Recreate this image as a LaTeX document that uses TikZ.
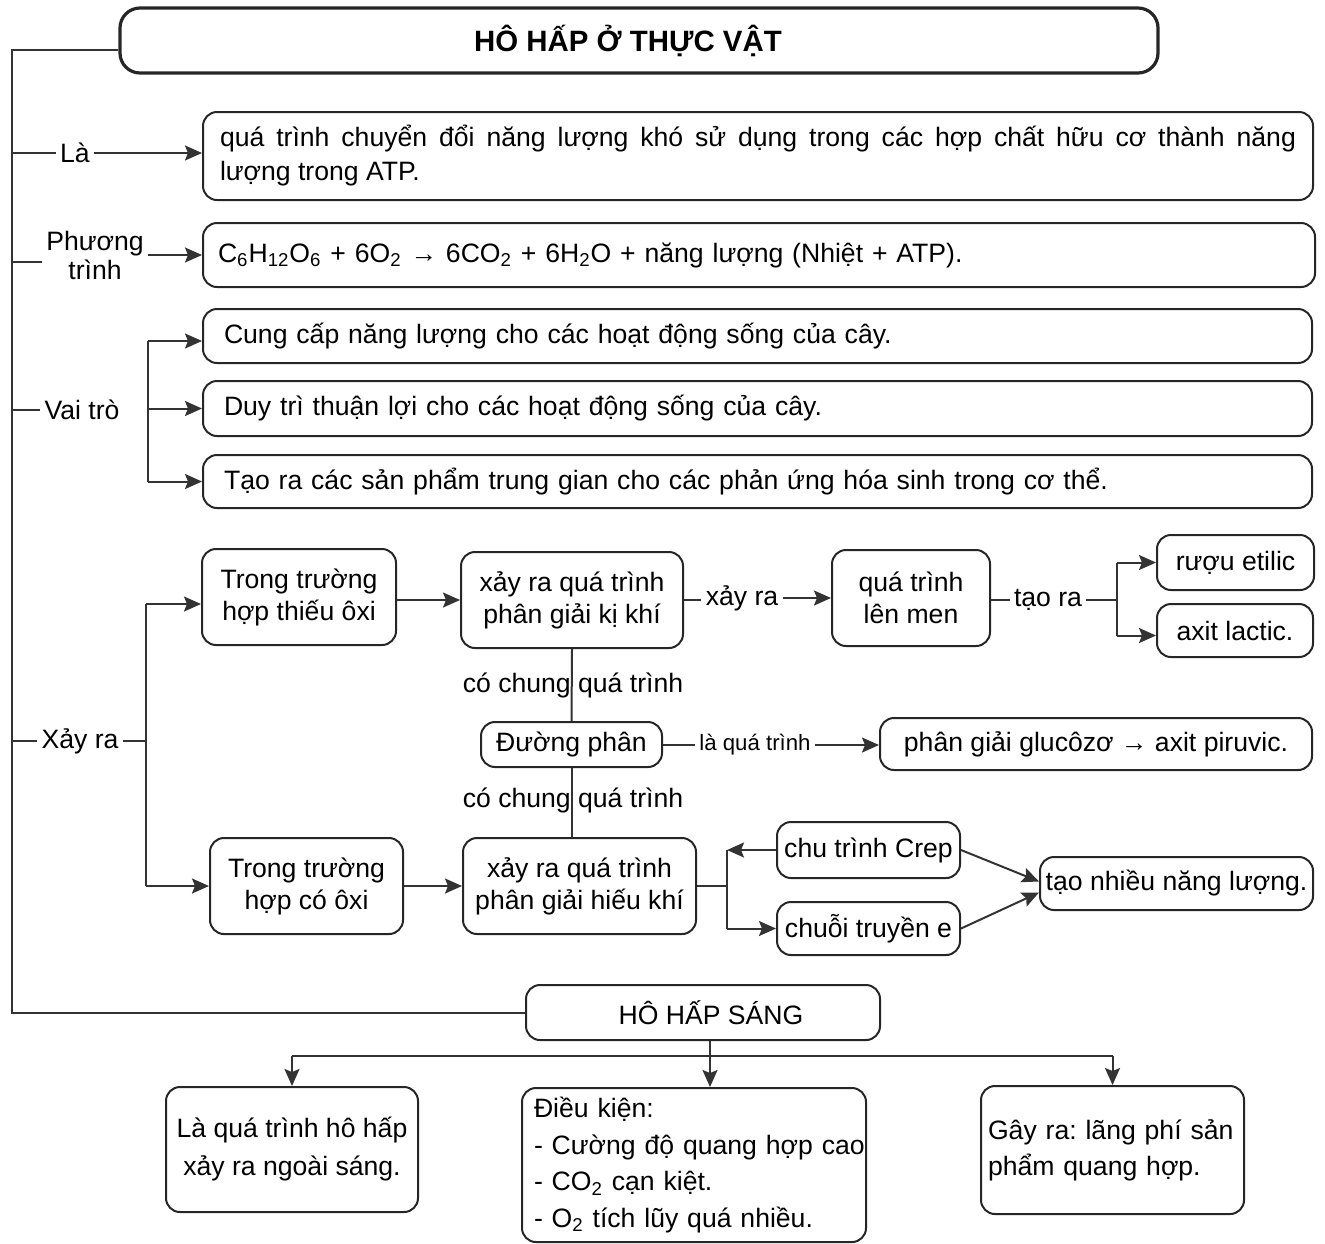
\documentclass[tikz,border=0pt]{standalone}
\usepackage{fontspec}
\setmainfont{Liberation Sans}
\usetikzlibrary{arrows.meta}
\begin{document}
\frenchspacing
\begin{tikzpicture}[x=0.5pt,y=-0.5pt,
  font=\fontsize{13.3}{16}\selectfont,
  line/.style={draw=black!80, line width=1pt},
  arr/.style={line, -{Stealth[length=8.5pt,width=7.5pt,inset=1.5pt]}},
  box/.style={draw=black!85, line width=1pt, rounded corners=7pt, inner sep=0pt, align=center},
  lbox/.style={box, align=left},
  lab/.style={inner sep=2pt, align=center}]
\useasboundingbox (0,0) rectangle (1325,1243);

% title
\node[box, line width=1.6pt, rounded corners=10pt, minimum width=519pt, minimum height=32.5pt, font=\fontsize{14.7}{17}\selectfont\bfseries] (title) at (639,40.5) {HÔ HẤP Ở THỰC VẬT\hspace*{11pt}};
\coordinate (T) at (12,50);

% Là
\node[box, align=justify, inner xsep=8.5pt, text width=538pt, minimum height=44pt, font=\fontsize{13.3}{17}\selectfont] (b1) at (758,156)
  {quá trình chuyển đổi năng lượng khó sử dụng trong các hợp chất hữu cơ thành năng\linebreak lượng trong ATP.};
\node[lab] (la) at (75,153) {Là};

% Phương trình
\node[lbox, inner xsep=7.5pt, text width=541pt, minimum height=32pt] (b2) at (759,255)
  {C\textsubscript{6}H\textsubscript{12}O\textsubscript{6} + 6O\textsubscript{2} → 6CO\textsubscript{2} + 6H\textsubscript{2}O + năng lượng (Nhiệt + ATP).};
\node[lab, font=\fontsize{13.3}{14.5}\selectfont] (pt) at (95,255) {Phương\\trình};
\coordinate (ptl) at ([yshift=-3.5pt]pt.west);

% Vai trò
\node[lbox, inner xsep=10.5pt, text width=533.5pt, minimum height=27pt] (b3) at (757.5,336) {Cung cấp năng lượng cho các hoạt động sống của cây.};
\node[lbox, inner xsep=10.5pt, text width=533.5pt, minimum height=27.5pt] (b4) at (757.5,408.5) {Duy trì thuận lợi cho các hoạt động sống của cây.};
\node[lbox, inner xsep=10.5pt, text width=533.5pt, minimum height=26.5pt] (b5) at (757.5,481.5) {Tạo ra các sản phẩm trung gian cho các phản ứng hóa sinh trong cơ thể.};
\node[lab] (vt) at (82,410) {Vai trò};
\coordinate (vb) at (148,410);

% Xảy ra
\node[lab] (xr) at (80,741) {Xảy ra};
\coordinate (xb) at (146,741);
\node[box, minimum width=97pt, minimum height=48pt] (tx) at (299,597) {Trong trường\\hợp thiếu ôxi};
\node[box, minimum width=111pt, minimum height=48pt] (kk) at (572,600) {xảy ra quá trình\\phân giải kị khí};
\node[box, minimum width=79pt, minimum height=48pt] (lm) at (911,598) {quá trình\\lên men};
\node[box, minimum width=78.5pt, minimum height=27.5pt] (ru) at (1235.5,562.5) {rượu etilic};
\node[box, minimum width=78pt, minimum height=26.5pt] (ax) at (1235,630.5) {axit lactic.};
\node[lab] (xra) at (742,598) {xảy ra};
\node[lab] (tr) at (1048,600) {tạo ra};
\coordinate (lb) at (1117,600);

\node[box, minimum width=90.5pt, minimum height=22.5pt] (dp) at (571.5,744.5) {Đường phân};
\node[box, minimum width=216pt, minimum height=26pt] (pg) at (1096,744) {phân giải glucôzơ → axit piruvic.};
\node[lab, font=\fontsize{11.1}{13}\selectfont] (lqt) at (755,745) {là quá trình};

\node[box, minimum width=96.5pt, minimum height=48pt] (co) at (306.5,886) {Trong trường\\hợp có ôxi};
\node[box, minimum width=116.5pt, minimum height=48pt] (hk) at (579.5,886) {xảy ra quá trình\\phân giải hiếu khí};
\node[box, minimum width=91.5pt, minimum height=28pt] (cr) at (868.5,850) {chu trình Crep};
\node[box, minimum width=91.5pt, minimum height=26.5pt] (cu) at (868.5,928.5) {chuỗi truyền e};
\node[box, minimum width=136.5pt, minimum height=26.5pt] (tn) at (1176.5,883.5) {tạo nhiều năng lượng.};
\coordinate (hb) at (727,886);

% connectors (middle)
\draw[line] (kk.south) -- (dp.north);
\draw[line] (dp.south) -- (hk.north -| dp.south);
\node[lab] (cc1) at (573,685) {có chung quá trình};
\node[lab] (cc2) at (573,800) {có chung quá trình};

% Hô hấp sáng
\node[box, minimum width=177pt, minimum height=27.5pt] (hhs) at (703,1012.5) {\hspace*{8pt}HÔ HẤP SÁNG};
\node[box, minimum width=126pt, minimum height=62.5pt, font=\fontsize{13.3}{19}\selectfont] (l1) at (292,1149.5) {Là quá trình hô hấp\\xảy ra ngoài sáng.};
\node[lbox, inner xsep=6pt, text width=160pt, minimum height=77pt, font=\fontsize{13.3}{18.3}\selectfont] (l2) at (694,1165)
  {\mbox{Điều kiện:}\\\mbox{- Cường độ quang hợp cao}\\\mbox{- CO\textsubscript{2} cạn kiệt.}\\\mbox{- O\textsubscript{2} tích lũy quá nhiều.}};
\node[lbox, inner xsep=3.5pt, text width=124.5pt, minimum height=64pt, font=\fontsize{13.3}{18}\selectfont] (l3) at (1112.5,1150)
  {\mbox{Gây ra: lãng phí sản}\\\mbox{phẩm quang hợp.}};
\coordinate (sp) at (710,1056);

% trunk
\draw[line] ([yshift=-4.75pt]title.west) -- (T) |- (hhs.west);
% Là
\draw[line] (T |- la.west) -- (la.west);
\draw[arr] (la.east) -- (la.east -| b1.west);
% Phương trình
\draw[line] (ptl -| T) -- (ptl);
\draw[arr] (pt.east) -- (pt.east -| b2.west);
% Vai trò
\draw[line] (T |- vt.west) -- (vt.west);
\draw[line] ([yshift=-2.5pt]vb |- b3.west) -- (vb |- b5.west);
\draw[arr] ([yshift=-2.5pt]vb |- b3.west) -- ([yshift=-2.5pt]b3.west);
\draw[arr] (vb |- b4.west) -- (b4.west);
\draw[arr] (vb |- b5.west) -- (b5.west);
% Xảy ra
\draw[line] (T |- xr.west) -- (xr.west);
\draw[line] (xr.east) -- (xb);
\draw[line] ([yshift=-3.5pt]xb |- tx.west) -- (xb |- co.west);
\draw[arr] ([yshift=-3.5pt]xb |- tx.west) -- ([yshift=-3.5pt]tx.west);
\draw[arr] (xb |- co.west) -- (co.west);
\draw[arr] (tx.east |- kk.west) -- (kk.west);
\draw[line] (kk.east) -- (kk.east -| xra.west);
\draw[arr] (xra.east) -- (xra.east -| lm.west);
\draw[line] (lm.east |- tr.west) -- (tr.west);
\draw[line] (tr.east) -- (lb);
\draw[line] (lb |- ru.west) -- ([yshift=-2.5pt]lb |- ax.west);
\draw[arr] (lb |- ru.west) -- (ru.west);
\draw[arr] ([yshift=-2.5pt]lb |- ax.west) -- ([yshift=-2.5pt]ax.west);
\draw[line] (dp.east) -- (dp.east -| lqt.west);
\draw[arr] (lqt.east) -- (lqt.east -| pg.west);
\draw[arr] (co.east) -- (co.east -| hk.west);
\draw[line] (hk.east) -- (hb);
\draw[line] (hb |- cr.west) -- (hb |- cu.west);
\draw[arr] (cr.west) -- (hb |- cr.west);
\draw[arr] (hb |- cu.west) -- (cu.west);
\draw[arr] (cr.east) -- ([yshift=1pt]tn.west);
\draw[arr] (cu.east) -- ([yshift=-4.5pt]tn.west);
% bottom
\draw[line] ([xshift=3.5pt]hhs.south) -- (sp);
\draw[line] (l1.north |- sp) -- (l3.north |- sp);
\draw[arr] (l1.north |- sp) -- (l1.north);
\draw[arr] (sp) -- ([xshift=8pt]l2.north);
\draw[arr] (l3.north |- sp) -- (l3.north);
\end{tikzpicture}
\end{document}
